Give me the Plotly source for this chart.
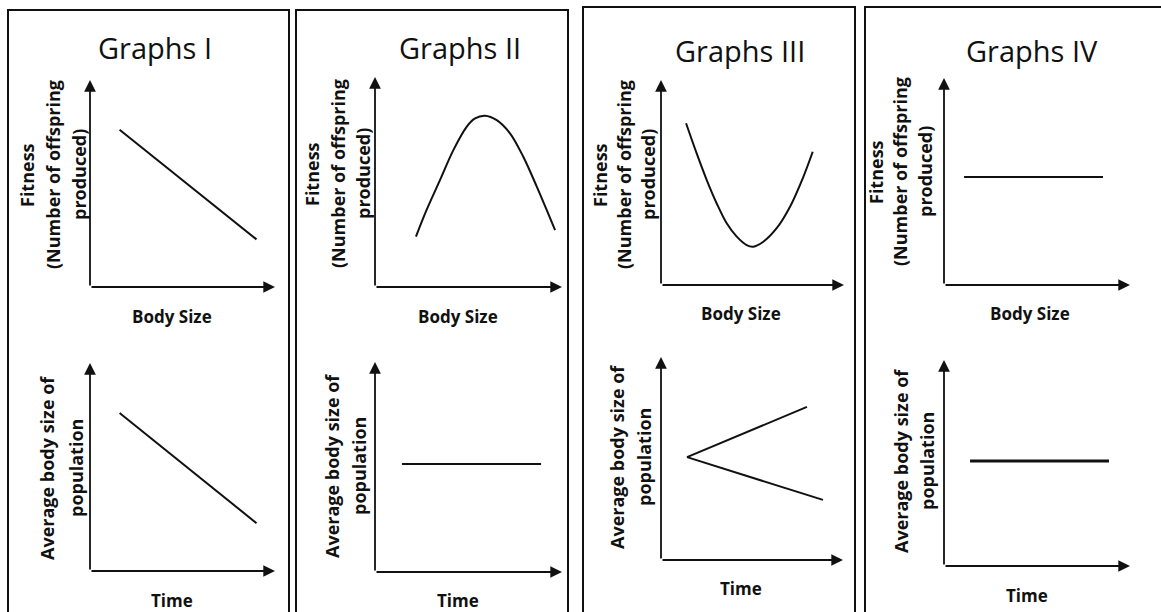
import plotly.graph_objects as go

# ---------------- data (arbitrary units, 0-10 on each axis) ----------------
panel_titles = ["Graphs I", "Graphs II", "Graphs III", "Graphs IV"]
top_xlabel = "Body Size"
bottom_xlabel = "Time"
top_ylabel_lines = ["Fitness", "(Number of offspring", "produced)"]
bottom_ylabel_lines = ["Average body size of", "population"]

# Graphs I
fit_I_x = [1.6, 9.0]
fit_I_y = [7.6, 2.3]
avg_I_x = [1.6, 9.0]
avg_I_y = [7.6, 2.3]

# Graphs II
fit_II_x = [2.19, 2.76, 3.48, 4.19, 4.90, 5.35, 5.88, 6.51, 7.22, 7.93, 8.65, 9.18, 9.63]
fit_II_y = [2.40, 3.67, 5.10, 6.52, 7.63, 8.03, 8.16, 7.95, 7.32, 6.20, 4.78, 3.67, 2.71]
avg_II_x = [1.44, 8.88]
avg_II_y = [5.14, 5.14]

# Graphs III
fit_III_x = [1.37, 1.95, 2.50, 3.04, 3.59, 4.14, 4.68, 5.04, 5.59, 6.32, 7.05, 7.78, 8.29]
fit_III_y = [7.89, 6.42, 5.12, 3.99, 3.01, 2.36, 1.95, 1.87, 2.11, 2.77, 3.82, 5.28, 6.50]
avg_III_up_x = [1.43, 8.02]
avg_III_up_y = [5.07, 7.54]
avg_III_dn_x = [1.43, 8.90]
avg_III_dn_y = [5.07, 2.96]

# Graphs IV
fit_IV_x = [1.08, 8.55]
fit_IV_y = [5.22, 5.22]
avg_IV_x = [1.40, 8.87]
avg_IV_y = [5.10, 5.10]

# ---------------- layout helpers ----------------
W, H = 1161, 612


def px(x):
    return x / W


def py(y):
    return 1 - y / H


INK = "#111111"
FONT = "Open Sans"

# subplot frames in pixels: origin x, origin y, x arrow end, y arrow top
frames = [
    (90, 287, 275, 80), (90, 571, 275, 363),
    (375, 287, 562, 77), (375, 572, 562, 362),
    (661, 285, 844, 80), (661, 560, 843, 357),
    (944, 285, 1130, 78), (944, 566, 1130, 360),
]

series = [
    [(fit_I_x, fit_I_y, 2)],
    [(avg_I_x, avg_I_y, 2)],
    [(fit_II_x, fit_II_y, 2)],
    [(avg_II_x, avg_II_y, 2)],
    [(fit_III_x, fit_III_y, 2)],
    [(avg_III_up_x, avg_III_up_y, 2), (avg_III_dn_x, avg_III_dn_y, 2)],
    [(fit_IV_x, fit_IV_y, 2)],
    [(avg_IV_x, avg_IV_y, 3)],
]

fig = go.Figure()
annotations = []
layout_axes = {}

for i, (ox, oy, xe, yt) in enumerate(frames):
    n = i + 1
    xname = "x" if n == 1 else f"x{n}"
    yname = "y" if n == 1 else f"y{n}"
    xkey = "xaxis" if n == 1 else f"xaxis{n}"
    ykey = "yaxis" if n == 1 else f"yaxis{n}"
    layout_axes[xkey] = dict(domain=[px(ox), px(xe)], range=[0, 10], visible=False,
                             anchor=yname, fixedrange=True)
    layout_axes[ykey] = dict(domain=[py(oy), py(yt)], range=[0, 10], visible=False,
                             anchor=xname, fixedrange=True)
    for sx, sy, lw in series[i]:
        fig.add_trace(go.Scatter(x=sx, y=sy, mode="lines", xaxis=xname, yaxis=yname,
                                 line=dict(color=INK, width=lw, shape="spline",
                                           smoothing=1.0),
                                 hoverinfo="skip"))
    # arrowed axes
    for tx, ty in [(10, 0), (0, 10)]:
        annotations.append(dict(x=tx, y=ty, ax=0, ay=0, xref=xname, yref=yname,
                                axref=xname, ayref=yname, text="", showarrow=True,
                                arrowhead=2, arrowsize=1.3, arrowwidth=1.8,
                                arrowcolor=INK, standoff=0))


def text(t, x, y, size, bold=False, angle=0):
    annotations.append(dict(
        text=f"<b>{t}</b>" if bold else t, x=px(x), y=py(y), xref="paper", yref="paper",
        showarrow=False, xanchor="center", yanchor="middle", textangle=angle,
        font=dict(family=FONT, size=size, color=INK)))


# titles
for t, (cx, cy) in zip(panel_titles, [(155, 48), (460, 48), (740, 50), (1032, 50)]):
    text(t, cx, cy, 29)

# x labels
for cx, cy in [(172, 316), (458, 316), (741, 313), (1030, 313)]:
    text(top_xlabel, cx, cy, 17, bold=True)
for cx, cy in [(172, 600), (458, 600), (741, 588), (1027, 595)]:
    text(bottom_xlabel, cx, cy, 17, bold=True)

# y labels (rotated)
top_pos = [((27, 53, 79), 175), ((312, 338, 363), 174), ((600, 624, 648), 175),
           ((876, 900, 925), 172)]
bot_pos = [((47, 76), 468), ((332, 359), 466), ((617, 644), 457), ((901, 927), 461)]
for xs, cy in top_pos:
    for line, cx in zip(top_ylabel_lines, xs):
        text(line, cx, cy, 18, bold=True, angle=-90)
for xs, cy in bot_pos:
    for line, cx in zip(bottom_ylabel_lines, xs):
        text(line, cx, cy, 18, bold=True, angle=-90)

# panel borders
shapes = []
for x0, x1, top in [(8, 289, 10), (296, 568, 10), (583, 855, 7), (865, 1175, 7)]:
    shapes.append(dict(type="rect", xref="paper", yref="paper", x0=px(x0), x1=px(x1),
                       y0=-0.02, y1=py(top), line=dict(color=INK, width=2)))

fig.update_layout(width=W, height=H, margin=dict(l=0, r=0, t=0, b=0),
                  paper_bgcolor="white", plot_bgcolor="white", showlegend=False,
                  annotations=annotations, shapes=shapes, **layout_axes)

fig.write_html("out.html", post_script="document.body.style.margin='0';",
               config={"displayModeBar": False})
